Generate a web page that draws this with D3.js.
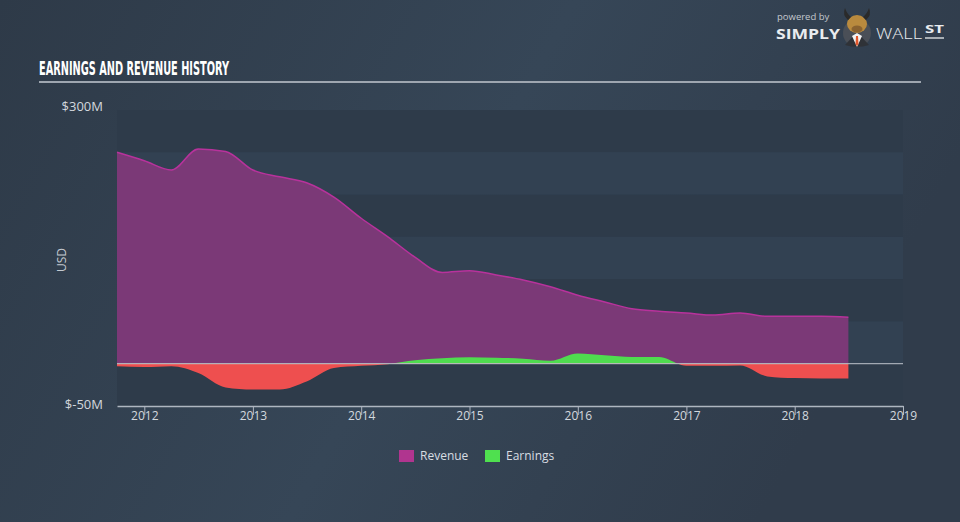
<!DOCTYPE html>
<html>
<head>
<meta charset="utf-8">
<script src="https://cdn.jsdelivr.net/npm/d3@7"></script>
<style>
  html, body { margin: 0; padding: 0; background: #323f4f; }
  svg { display: block; }
</style>
</head>
<body>
<svg id="chart" width="960" height="522"></svg>
<script>
// ---- data ----
const quarters = ["2011-10","2012-01","2012-04","2012-07","2012-10","2013-01","2013-04","2013-07","2013-10",
  "2014-01","2014-04","2014-07","2014-10","2015-01","2015-04","2015-07","2015-10",
  "2016-01","2016-04","2016-07","2016-10","2017-01","2017-04","2017-07","2017-10",
  "2018-01","2018-04","2018-07"];
const revenue = [250,240,229,254,251,229,221,214,197,172,150,126,108,110,105,99,91,81,73,65,62,60,57.5,60,56,56,56,55];
const earnings = [-3,-4,-3,-11,-28,-30.5,-30.5,-21,-5,-2.5,-0.5,4,6.5,7.5,7,6,3.5,12,10,8,8,-2.5,-2.5,-2,-15,-17,-17.5,-17.5];
const yearTicks = [2012,2013,2014,2015,2016,2017,2018,2019];
const yTickValues = [300,-50];
const yTickLabels = ["$300M","$-50M"];
const seriesNames = ["Revenue","Earnings"];

const parse = d3.timeParse("%Y-%m");
const data = quarters.map((q,i)=>({date: parse(q), rev: revenue[i], earn: earnings[i]}));

const svg = d3.select("#chart");
const W = 960, H = 522;

// background gradient
const defs = svg.append("defs");
const bg = defs.append("linearGradient").attr("id","bg").attr("x1","0").attr("y1","0").attr("x2","1").attr("y2","0.3");
bg.append("stop").attr("offset","0%").attr("stop-color","#2e3a48");
bg.append("stop").attr("offset","55%").attr("stop-color","#364657");
bg.append("stop").attr("offset","100%").attr("stop-color","#303c4b");
svg.append("rect").attr("width",W).attr("height",H).attr("fill","url(#bg)");

const plot = {left:117, right:903, top:110, bottom:406};
const x = d3.scaleTime().domain([new Date(2011,9,1), new Date(2019,0,1)]).range([plot.left, plot.right]);
const y = d3.scaleLinear().domain([-50,300]).range([plot.bottom, plot.top]);

// bands
const bandEdges = d3.range(300, -50, -50);
svg.append("g").selectAll("rect").data(bandEdges).join("rect")
  .attr("x", plot.left).attr("width", plot.right-plot.left)
  .attr("y", d=>y(d)).attr("height", d=>y(d-50)-y(d))
  .attr("fill", (d,i)=> i%2===0 ? "#2e3b4a" : "#324152");

// title
svg.append("text").attr("x",39).attr("y",75)
  .attr("font-family","'Liberation Sans Narrow','DejaVu Sans Condensed',sans-serif")
  .attr("font-weight","bold").attr("font-size",19).attr("fill","#ffffff")
  .attr("textLength",190).attr("lengthAdjust","spacingAndGlyphs")
  .text("EARNINGS AND REVENUE HISTORY");
svg.append("line").attr("x1",39).attr("x2",921).attr("y1",82).attr("y2",82)
  .attr("stroke","#9ea6b0").attr("stroke-width",2);

// revenue area
const revArea = d3.area().curve(d3.curveMonotoneX)
  .x(d=>x(d.date)).y0(y(0)).y1(d=>y(d.rev));
const revLine = d3.line().curve(d3.curveMonotoneX)
  .x(d=>x(d.date)).y(d=>y(d.rev));
svg.append("path").datum(data).attr("d",revArea).attr("fill","#7b3977");
svg.append("path").datum(data).attr("d",revLine).attr("fill","none")
  .attr("stroke","#b8329c").attr("stroke-width",1.5);

// earnings area split at zero
defs.append("clipPath").attr("id","pos").append("rect")
  .attr("x",plot.left).attr("y",plot.top).attr("width",plot.right-plot.left).attr("height",y(0)-plot.top);
defs.append("clipPath").attr("id","neg").append("rect")
  .attr("x",plot.left).attr("y",y(0)).attr("width",plot.right-plot.left).attr("height",plot.bottom-y(0));
const earnArea = d3.area().curve(d3.curveMonotoneX)
  .x(d=>x(d.date)).y0(y(0)).y1(d=>y(d.earn));
svg.append("path").datum(data).attr("d",earnArea).attr("fill","#4fdc4f").attr("clip-path","url(#pos)");
svg.append("path").datum(data).attr("d",earnArea).attr("fill","#ee4f4f").attr("clip-path","url(#neg)");

// zero line
svg.append("line").attr("x1",plot.left).attr("x2",plot.right).attr("y1",y(0)).attr("y2",y(0))
  .attr("stroke","#c9ced6").attr("stroke-opacity",0.75).attr("stroke-width",1.2);

// x axis
const xAxis = d3.axisBottom(x)
  .tickValues(yearTicks.map(yr=>new Date(yr,0,1)))
  .tickFormat(d3.timeFormat("%Y")).tickSize(9).tickSizeOuter(0);
const gx = svg.append("g").attr("transform",`translate(0,${plot.bottom})`).call(xAxis);
gx.select(".domain").attr("stroke","#aeb6c0").attr("stroke-width",1.5);
gx.selectAll(".tick line").attr("stroke","#aeb6c0").attr("stroke-width",1);
gx.selectAll(".tick text").attr("fill","#d3d8de").attr("font-size",12)
  .attr("font-family","'Open Sans',sans-serif").attr("dy","0.45em").attr("y",9);

// y labels
svg.append("g").selectAll("text").data(yTickValues).join("text")
  .attr("x",103).attr("y",d=>y(d)).attr("dy", (d,i)=> i===0 ? "0.1em" : "0.2em")
  .attr("text-anchor","end").attr("fill","#d3d8de")
  .attr("font-family","'Open Sans',sans-serif").attr("font-size",13)
  .text((d,i)=>yTickLabels[i]);
svg.append("text").attr("transform","translate(66,260) rotate(-90)")
  .attr("text-anchor","middle").attr("fill","#c3c9d0")
  .attr("font-family","'Open Sans',sans-serif").attr("font-size",12).text("USD");

// legend
const legColors = ["#b0358f","#4fe04f"];
const legX = [399, 485];
const lg = svg.append("g");
seriesNames.forEach((n,i)=>{
  lg.append("rect").attr("x",legX[i]).attr("y",450).attr("width",15).attr("height",12).attr("fill",legColors[i]);
  lg.append("text").attr("x",legX[i]+21).attr("y",456).attr("dy","0.35em")
    .attr("fill","#d8dde2").attr("font-family","'Open Sans',sans-serif").attr("font-size",12).text(n);
});

// logo
const logo = svg.append("g");
logo.append("text").attr("x",777).attr("y",20).attr("fill","#c3c8ce")
  .attr("font-family","'Open Sans',sans-serif").attr("font-size",9.5).text("powered by");
logo.append("text").attr("x",776).attr("y",38.5).attr("fill","#e9ecef")
  .attr("font-family","'Open Sans',sans-serif").attr("font-weight","bold").attr("font-size",14.5)
  .attr("textLength",64).attr("lengthAdjust","spacingAndGlyphs").text("SIMPLY");
logo.append("text").attr("x",876).attr("y",38.5).attr("fill","#e9ecef")
  .attr("font-family","'Open Sans',sans-serif").attr("font-weight","300").attr("font-size",14.5)
  .attr("textLength",46).attr("lengthAdjust","spacingAndGlyphs").text("WALL");
logo.append("text").attr("x",925).attr("y",33).attr("fill","#e9ecef")
  .attr("font-family","'Open Sans',sans-serif").attr("font-weight","bold").attr("font-size",10)
  .attr("textLength",19).attr("lengthAdjust","spacingAndGlyphs").text("ST");
logo.append("line").attr("x1",925).attr("x2",944).attr("y1",38).attr("y2",38).attr("stroke","#e9ecef").attr("stroke-width",1.3);
// bull
logo.append("circle").attr("cx",857).attr("cy",33).attr("r",14).attr("fill","#4a4f57");
logo.append("path").attr("d","M845,45 L857,32 L869,45 Q857,49 845,45 Z").attr("fill","#2f3237");
logo.append("path").attr("d","M852,36 L857,33 L862,36 L857,47 Z").attr("fill","#f2f2f2");
logo.append("path").attr("d","M856,36 L858,36 L858.5,44 L857,46 L855.5,44 Z").attr("fill","#e2562a");
logo.append("ellipse").attr("cx",857).attr("cy",24).attr("rx",10).attr("ry",9).attr("fill","#b98a3e");
logo.append("ellipse").attr("cx",857).attr("cy",29).attr("rx",5.5).attr("ry",3.5).attr("fill","#8a6230");
logo.append("path").attr("d","M848,20 Q842,15 845,8 Q847,14 851,17 Z").attr("fill","#2a2a2a");
logo.append("path").attr("d","M866,20 Q872,15 869,8 Q867,14 863,17 Z").attr("fill","#2a2a2a");
</script>
</body>
</html>
